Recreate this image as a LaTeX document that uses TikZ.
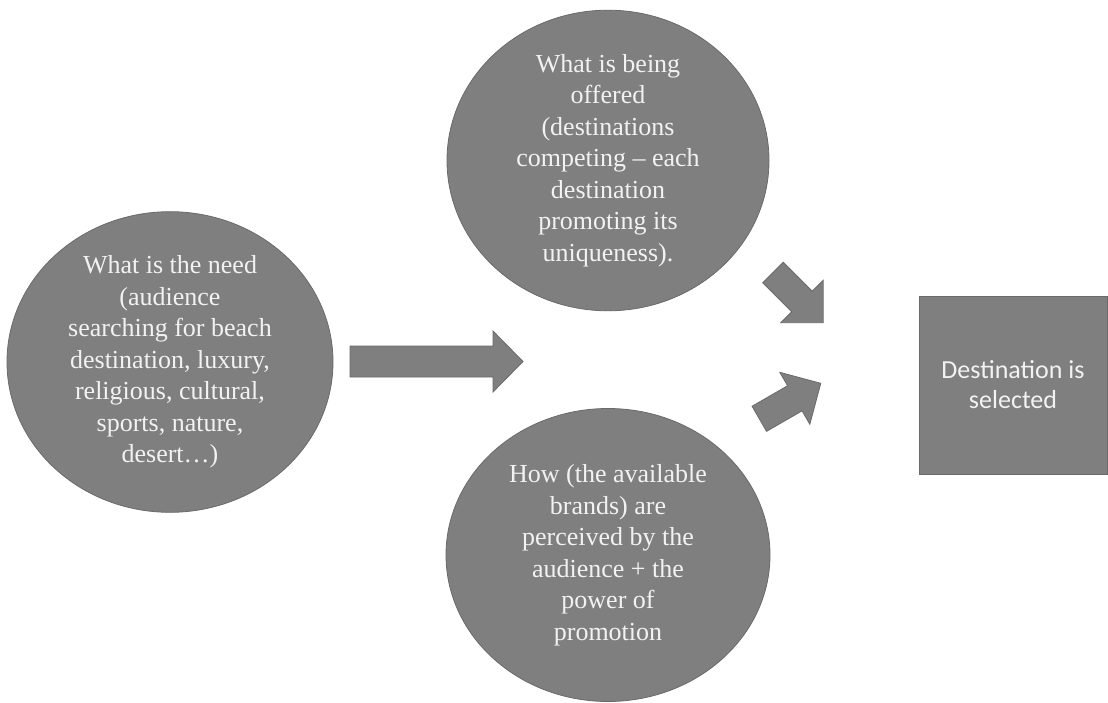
\documentclass[tikz,border=0pt]{standalone}
\usepackage{fontspec}
\setmainfont{Liberation Serif}
\newfontfamily\boxfont{Carlito}
\usetikzlibrary{shapes.geometric}
\definecolor{shapefill}{HTML}{7F7F7F}
\definecolor{shapeline}{HTML}{6A6A6A}
\definecolor{shapetext}{HTML}{F2F2F2}

% block arrow: #1 start coordinate, #2 angle, #3 length,
% #4 shaft half-width, #5 head half-width, #6 head length
\newcommand\blockarrow[6]{%
  \filldraw[arrowbody, shift={(#1)}, rotate=#2]
    (0,-#4) -- ({#3-#6},-#4) -- ({#3-#6},-#5) -- (#3,0)
    -- ({#3-#6},#5) -- ({#3-#6},#4) -- (0,#4) -- cycle;}

\begin{document}
\begin{tikzpicture}[x=1pt,y=-1pt,
  bubble/.style={ellipse, fill=shapefill, draw=shapeline, line width=0.8pt,
    inner sep=0pt, text=shapetext, align=center,
    font=\fontsize{26}{31.5}\selectfont},
  box/.style={rectangle, fill=shapefill, draw=shapeline, line width=0.8pt,
    inner sep=0pt, text=shapetext, align=center,
    font=\boxfont\fontsize{26}{30}\selectfont},
  arrowbody/.style={fill=shapefill, draw=shapeline, line width=0.8pt}]
\useasboundingbox (0,0) rectangle (1108,703);

\node[bubble, minimum width=326pt, minimum height=300pt] (need) at (170,362)
  {What is the need\\(audience\\searching for beach\\destination, luxury,\\religious, cultural,\\sports, nature,\\desert…)};

\node[bubble, minimum width=322pt, minimum height=297pt] (offer) at (608,160.5)
  {What is being\\offered\\(destinations\\competing – each\\destination\\promoting its\\uniqueness).};

\node[bubble, minimum width=324pt, minimum height=293pt] (how) at (608,555)
  {How (the available\\brands) are\\perceived by the\\audience + the\\power of\\promotion};

\node[box, minimum width=188pt, minimum height=178pt] (sel) at (1013,385)
  {Destination is\\selected};

% arrow tails
\coordinate (needtail) at (350,361.5);
\coordinate (offertail) at (773,272.5);
\coordinate (howtail) at (759.3,418.8);

\blockarrow{needtail}{0}{173}{15.5}{30.5}{30}
\blockarrow{offertail}{-45}{71}{14.5}{30}{30}
\blockarrow{howtail}{30}{71}{14.5}{30}{30}
\end{tikzpicture}
\end{document}
